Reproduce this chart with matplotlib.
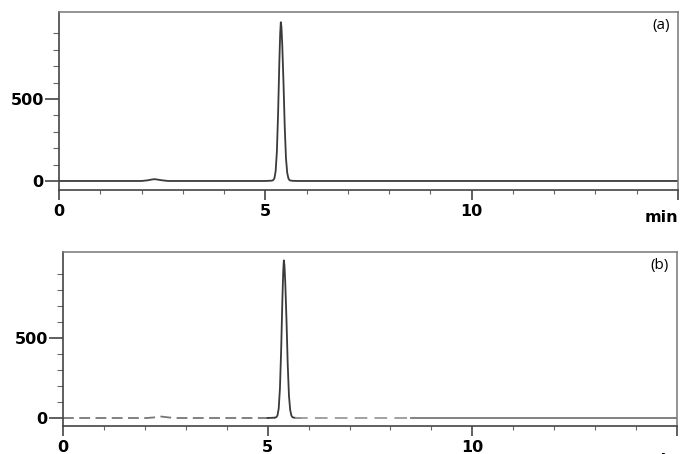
import matplotlib
matplotlib.use("Agg")
import matplotlib.pyplot as plt
import numpy as np
from matplotlib.ticker import FixedLocator, MultipleLocator
from matplotlib.transforms import Bbox

# chromatogram (a): retention time (min) vs signal
t_a = [0.0, 2.0, 2.15, 2.25, 2.32, 2.4, 2.5, 2.65, 5.0, 5.16, 5.19, 5.22, 5.25, 5.28, 5.31,
       5.34, 5.36, 5.375, 5.39, 5.41, 5.44, 5.47, 5.50, 5.53, 5.56, 5.59, 5.65, 5.8, 15.0]
y_a = [0, 0, 4, 9, 11, 8, 4, 0, 0, 2, 5, 16, 60, 180, 420,
       730, 900, 968, 940, 830, 600, 330, 140, 50, 15, 4, 1, 0, 0]

# chromatogram (b)
t_b = [0.0, 2.05, 2.2, 2.32, 2.4, 2.5, 2.6, 2.75, 5.0, 5.18, 5.21, 5.24, 5.27, 5.30, 5.33,
       5.36, 5.38, 5.395, 5.41, 5.43, 5.46, 5.49, 5.52, 5.55, 5.58, 5.61, 5.67, 5.8, 8.5, 15.0]
y_b = [0, 0, 3, 7, 9, 6, 3, 0, 0, 2, 5, 16, 60, 185, 430,
       745, 915, 985, 955, 845, 610, 335, 140, 50, 15, 4, 1, 0, 0, 0]

panel_labels = ["(a)", "(b)"]

fig = plt.figure(figsize=(6.93, 4.54), dpi=100)
ax1 = fig.add_axes([59/693, 1-190/454, (678-59)/693, (190-12)/454])
ax2 = fig.add_axes([63/693, 1-426/454, (677-63)/693, (426-252)/454])

lc = "#3a3a3a"
ax1.plot(t_a, y_a, color=lc, lw=1.3)

# panel b: baseline comes out broken in the scan
tb, yb = np.array(t_b), np.array(y_b)
m1 = tb <= 5.18
m2 = (tb >= 5.0) & (tb <= 5.8)
m3 = (tb >= 5.67) & (tb <= 8.5)
m4 = tb >= 8.5
ax2.plot(tb[m1], yb[m1], color="#777777", lw=1.3, dashes=(6, 3))
ax2.plot(tb[m2], yb[m2], color=lc, lw=1.3)
ax2.plot(tb[m3], yb[m3], color="#999999", lw=1.3, dashes=(7, 4))
ax2.plot(tb[m4], yb[m4], color="#777777", lw=1.3)

for ax, yl, lab in [(ax1, (-55, 1030), panel_labels[0]), (ax2, (-50, 1037), panel_labels[1])]:
    ax.set_xlim(0, 15)
    ax.set_ylim(*yl)
    ax.set_xticks([0, 5, 10, 15])
    ax.set_xticklabels(["0", "5", "10", ""])
    ax.xaxis.set_minor_locator(MultipleLocator(1))
    ax.set_yticks([0, 500])
    ax.set_yticklabels(["0", "500"])
    ax.yaxis.set_minor_locator(FixedLocator([100, 200, 300, 400, 600, 700, 800, 900]))
    ax.tick_params(axis="y", which="major", length=10, width=1.2, color="#444444", pad=1)
    ax.tick_params(axis="y", which="minor", length=4, width=0.8, color="#666666")
    ax.tick_params(axis="x", which="major", length=7, width=1.2, color="#444444", pad=3)
    ax.tick_params(axis="x", which="minor", length=3, width=0.8, color="#666666")
    for tl in ax.get_xticklabels() + ax.get_yticklabels():
        tl.set_fontsize(11.5)
        tl.set_fontweight("heavy")
    for s in ["left", "bottom"]:
        ax.spines[s].set_color("#444444")
        ax.spines[s].set_linewidth(1.2)
    for s in ["top", "right"]:
        ax.spines[s].set_color("#777777")
        ax.spines[s].set_linewidth(1.1)
    ax.text(0.987, 0.925, lab, transform=ax.transAxes, ha="right", va="center",
            fontsize=11, family="Open Sans")

# "min" labels, cut off by the panel edges as in the source image
t1 = fig.text(678/693, 1-218/454, "min", ha="right", va="center", fontsize=11.5, fontweight="heavy")
t1.set_clip_box(Bbox([[0, 454-222], [693, 454]]))
t1.set_clip_on(True)
fig.text(678/693, 1-460/454, "min", ha="right", va="center", fontsize=11.5, fontweight="heavy")

fig.savefig("out.png", dpi=100)
